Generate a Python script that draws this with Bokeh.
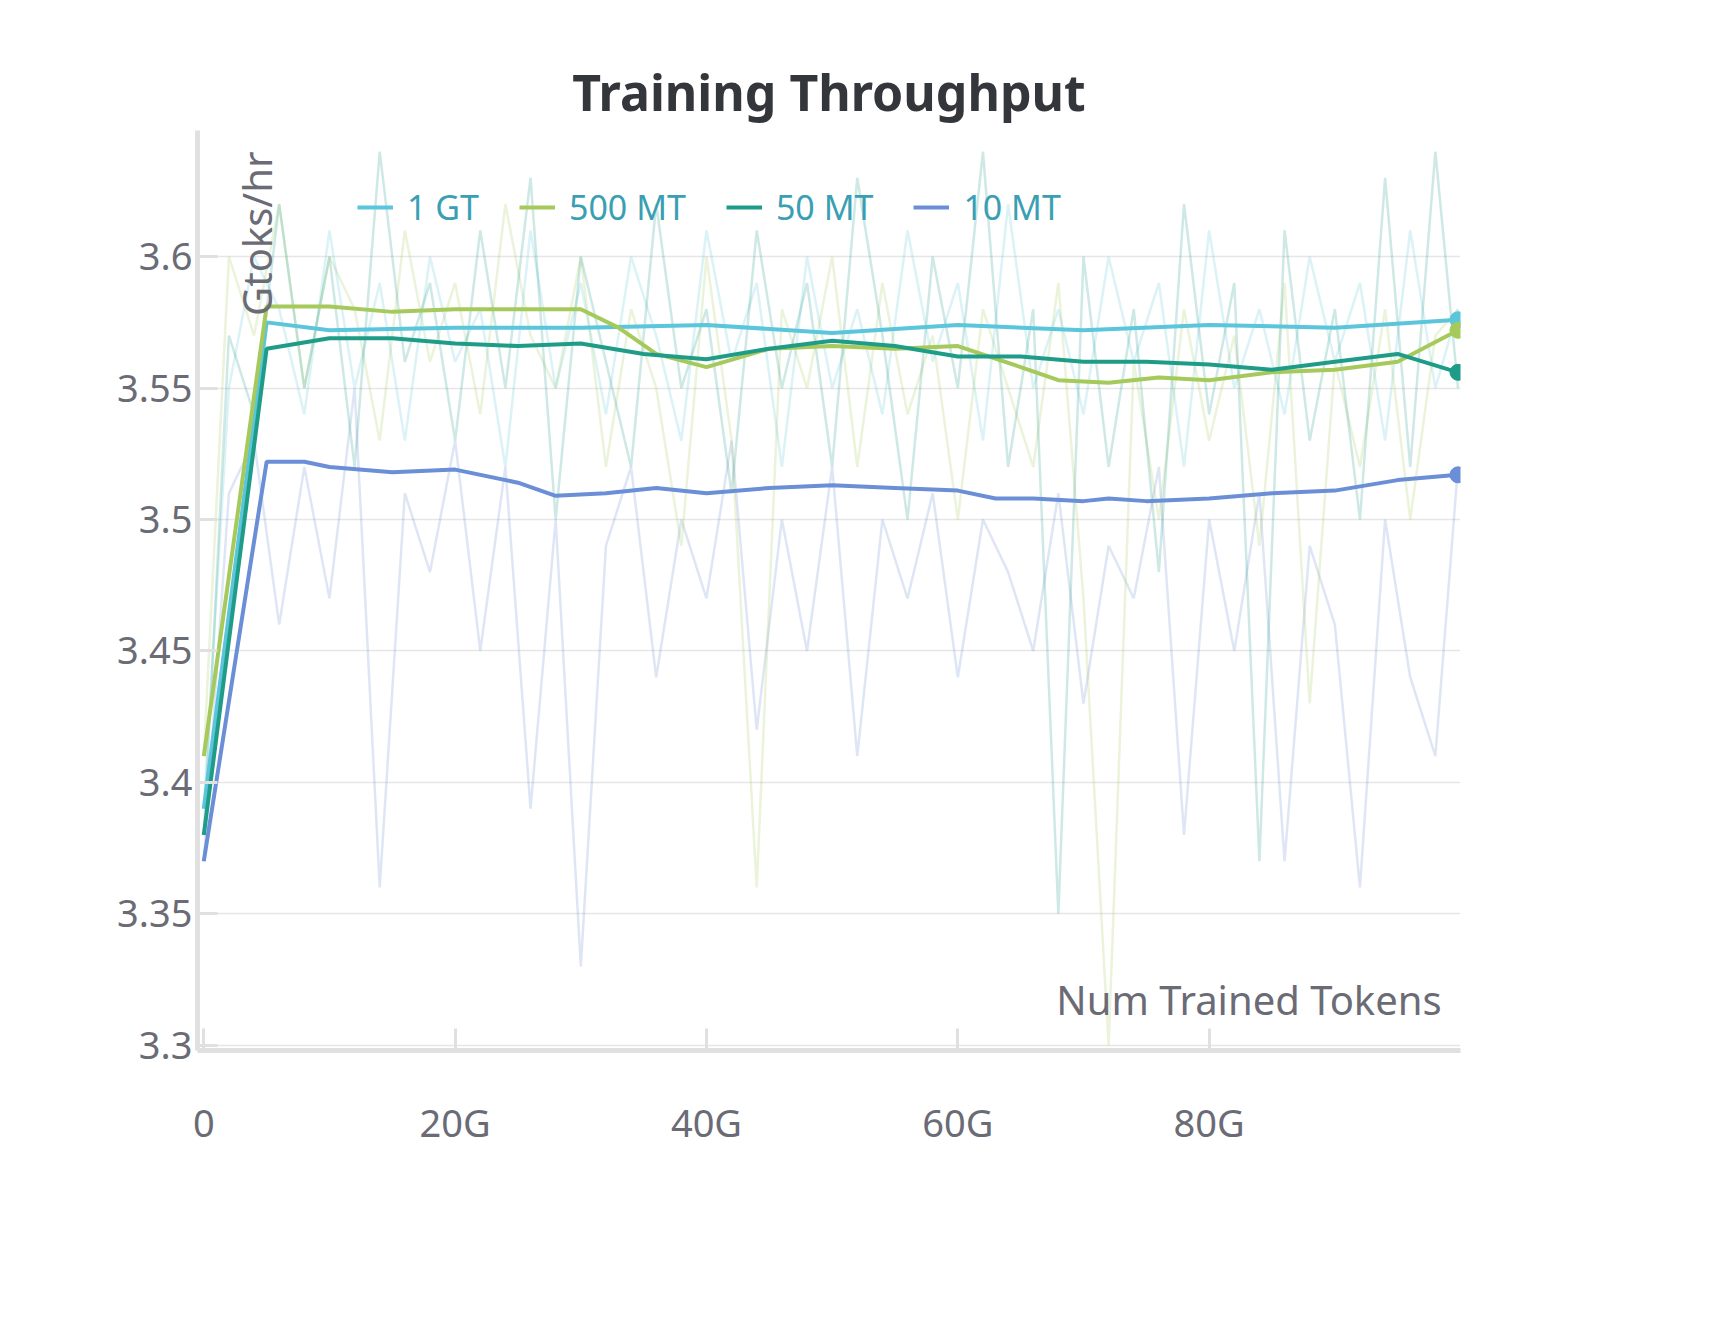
from bokeh.plotting import figure
from bokeh.models import Legend, LegendItem, Label, FixedTicker, Range1d
from bokeh.embed import file_html
from bokeh.resources import INLINE

FONT = "Noto Sans"
series_names = ["1 GT", "500 MT", "50 MT", "10 MT"]
colors = ["#5bc5db", "#a6c95c", "#1f9c87", "#6a8fd6"]

x_gt = [0, 5, 10, 20, 30, 40, 50, 60, 70, 80, 90, 99.8]
y_gt = [3.39, 3.575, 3.572, 3.573, 3.573, 3.574, 3.571, 3.574, 3.572, 3.574, 3.573, 3.576]
x_500 = [0, 5, 10, 15, 20, 25, 30, 33, 36, 40, 45, 50, 55, 60, 65, 68, 72, 76, 80, 85, 90, 95, 99.8]
y_500 = [3.41, 3.581, 3.581, 3.579, 3.580, 3.580, 3.580, 3.573, 3.563, 3.558, 3.565, 3.566, 3.565, 3.566, 3.558, 3.553, 3.552, 3.554, 3.553, 3.556, 3.557, 3.560, 3.572]
x_50 = [0, 5, 10, 15, 20, 25, 30, 35, 40, 45, 50, 55, 60, 65, 70, 75, 80, 85, 90, 95, 99.8]
y_50 = [3.38, 3.565, 3.569, 3.569, 3.567, 3.566, 3.567, 3.563, 3.561, 3.565, 3.568, 3.566, 3.562, 3.562, 3.560, 3.560, 3.559, 3.557, 3.560, 3.563, 3.556]
x_10 = [0, 5, 8, 10, 15, 20, 25, 28, 32, 36, 40, 45, 50, 55, 60, 63, 66, 70, 72, 75, 80, 85, 90, 95, 99.8]
y_10 = [3.37, 3.522, 3.522, 3.520, 3.518, 3.519, 3.514, 3.509, 3.510, 3.512, 3.510, 3.512, 3.513, 3.512, 3.511, 3.508, 3.508, 3.507, 3.508, 3.507, 3.508, 3.510, 3.511, 3.515, 3.517]

x_raw = [0, 2, 4, 6, 8, 10, 12, 14, 16, 18, 20, 22, 24, 26, 28, 30, 32, 34, 36, 38, 40, 42, 44, 46, 48,
         50, 52, 54, 56, 58, 60, 62, 64, 66, 68, 70, 72, 74, 76, 78, 80, 82, 84, 86, 88, 90, 92, 94, 96, 98, 99.8]
raw_gt = [3.39, 3.55, 3.60, 3.58, 3.54, 3.61, 3.55, 3.59, 3.53, 3.60, 3.56, 3.58, 3.52, 3.61, 3.55, 3.59, 3.54, 3.60, 3.57, 3.53,
          3.61, 3.56, 3.59, 3.52, 3.60, 3.55, 3.58, 3.54, 3.61, 3.56, 3.59, 3.53, 3.62, 3.55, 3.58, 3.54, 3.60, 3.56, 3.59, 3.52,
          3.61, 3.55, 3.58, 3.54, 3.60, 3.56, 3.59, 3.53, 3.61, 3.55, 3.58]
raw_500 = [3.41, 3.60, 3.57, 3.62, 3.55, 3.60, 3.58, 3.53, 3.61, 3.56, 3.59, 3.54, 3.62, 3.57, 3.55, 3.60, 3.52, 3.58, 3.55, 3.49,
           3.60, 3.53, 3.36, 3.58, 3.55, 3.60, 3.52, 3.59, 3.54, 3.57, 3.50, 3.58, 3.55, 3.52, 3.59, 3.47, 3.30, 3.56, 3.50, 3.58,
           3.53, 3.57, 3.49, 3.59, 3.43, 3.56, 3.52, 3.58, 3.50, 3.57, 3.58]
raw_50 = [3.38, 3.57, 3.54, 3.62, 3.55, 3.60, 3.52, 3.64, 3.56, 3.59, 3.53, 3.61, 3.55, 3.63, 3.50, 3.60, 3.56, 3.52, 3.62, 3.55,
          3.58, 3.51, 3.61, 3.55, 3.59, 3.52, 3.63, 3.57, 3.50, 3.60, 3.55, 3.64, 3.52, 3.58, 3.35, 3.60, 3.52, 3.58, 3.48, 3.62,
          3.54, 3.59, 3.37, 3.61, 3.53, 3.58, 3.50, 3.63, 3.52, 3.64, 3.55]
raw_10 = [3.37, 3.51, 3.53, 3.46, 3.52, 3.47, 3.55, 3.36, 3.51, 3.48, 3.53, 3.45, 3.52, 3.39, 3.50, 3.33, 3.49, 3.52, 3.44, 3.50,
          3.47, 3.53, 3.42, 3.50, 3.45, 3.52, 3.41, 3.50, 3.47, 3.51, 3.44, 3.50, 3.48, 3.45, 3.51, 3.43, 3.49, 3.47, 3.52, 3.38,
          3.50, 3.45, 3.51, 3.37, 3.49, 3.46, 3.36, 3.50, 3.44, 3.41, 3.52]

y_ticks = [3.3, 3.35, 3.4, 3.45, 3.5, 3.55, 3.6]
y_tick_labels = ["3.3", "3.35", "3.4", "3.45", "3.5", "3.55", "3.6"]
x_ticks = [0, 20, 40, 60, 80]
x_tick_labels = ["0", "20G", "40G", "60G", "80G"]

p = figure(width=1560, height=1220, output_backend="svg", toolbar_location=None,
           x_range=Range1d(-0.5, 100), y_range=Range1d(3.298, 3.648),
           min_border_left=197, min_border_right=100, min_border_bottom=170, min_border_top=130)
p.title.text = "Training Throughput"
p.title.align = "center"
p.title.text_font = FONT
p.title.text_font_size = "50px"
p.title.text_color = "#33363b"
p.outline_line_color = None

for r, c in zip([raw_10, raw_500, raw_gt, raw_50], [colors[3], colors[1], colors[0], colors[2]]):
    p.line(x_raw, r, line_color=c, line_alpha=0.22, line_width=2.5)

items = []
for xs, ys, c, n in zip([x_gt, x_500, x_50, x_10], [y_gt, y_500, y_50, y_10], colors, series_names):
    r = p.line(xs, ys, line_color=c, line_width=4)
    p.scatter(xs[-1:], ys[-1:], size=16, color=c)
    items.append(LegendItem(label=n, renderers=[r]))

leg = Legend(items=items, orientation="horizontal", location=(160, 820), border_line_color=None,
             label_text_font=FONT, label_text_font_size="34px", label_text_color="#3a9fb3",
             glyph_width=36, label_standoff=14, spacing=40, background_fill_alpha=0, padding=0, margin=0)
p.add_layout(leg, "center")

for ax in (p.xaxis, p.yaxis):
    ax.axis_line_color = "#e0e0e0"
    ax.axis_line_width = 5
    ax.major_tick_line_color = "#e0e0e0"
    ax.major_tick_line_width = 3
    ax.minor_tick_line_color = None
    ax.major_label_text_font = FONT
    ax.major_label_text_font_size = "38px"
    ax.major_label_text_color = "#6b6b76"
p.yaxis.ticker = FixedTicker(ticks=y_ticks)
p.yaxis.major_label_overrides = dict(zip(y_ticks, y_tick_labels))
p.xaxis.ticker = FixedTicker(ticks=x_ticks)
p.xaxis.major_label_overrides = dict(zip(x_ticks, x_tick_labels))
p.xaxis.major_tick_in = 22
p.xaxis.major_tick_out = 0
p.yaxis.major_tick_in = 20
p.yaxis.major_tick_out = 0
p.xaxis.major_label_standoff = 45
p.xgrid.grid_line_color = None
p.ygrid.grid_line_color = "#e6e6e6"
p.ygrid.grid_line_width = 1.5

p.add_layout(Label(x=98.5, y=3.307, text="Num Trained Tokens", text_align="right", text_font=FONT,
                   text_font_size="40px", text_color="#6b6b76"))
p.add_layout(Label(x=2.0, y=3.64, text="Gtoks/hr", angle=1.5708, text_align="right", text_baseline="top",
                   text_font=FONT, text_font_size="40px", text_color="#6b6b76"))

open("out.html", "w").write(file_html(p, INLINE))
